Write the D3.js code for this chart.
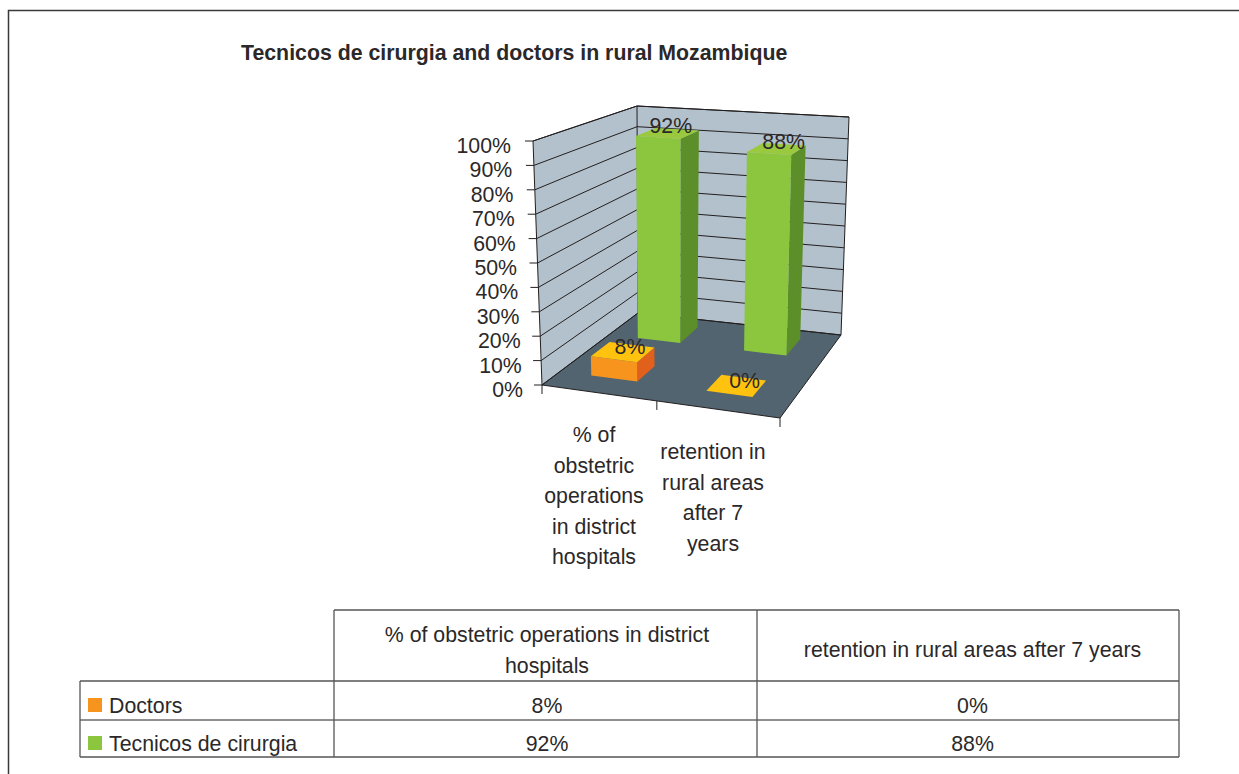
<!DOCTYPE html>
<html>
<head>
<meta charset="utf-8">
<script src="https://cdn.jsdelivr.net/npm/d3@7"></script>
<style>
  html, body { margin: 0; padding: 0; background: #fff; overflow: hidden; }
  text { font-family: "Liberation Sans", Arial, sans-serif; fill: #2b2829; }
</style>
</head>
<body>
<div id="chart"></div>
<script>
const title = 'Tecnicos de cirurgia and doctors in rural Mozambique';
const categories = ['% of obstetric operations in district hospitals', 'retention in rural areas after 7 years'];
const categoryLines = [
  ['% of', 'obstetric', 'operations', 'in district', 'hospitals'],
  ['retention in', 'rural areas', 'after 7', 'years']
];
const headerLines = [
  ['% of obstetric operations in district', 'hospitals'],
  ['retention in rural areas after 7 years']
];
const seriesNames = ['Doctors', 'Tecnicos de cirurgia'];
const doctors = [8, 0];
const tecnicos = [92, 88];
const tickValues = [0, 10, 20, 30, 40, 50, 60, 70, 80, 90, 100];

const width = 1239, height = 774;
const fontSize = 21.3;

const svg = d3.select('#chart').append('svg')
  .attr('width', width)
  .attr('height', height)
  .style('display', 'block');

// outer frame
svg.append('path')
  .attr('d', `M8.5,${height} V10.5 H${width}`)
  .attr('fill', 'none')
  .attr('stroke', '#3a3a3a')
  .attr('stroke-width', 1.5);

svg.append('text')
  .attr('x', 241)
  .attr('y', 60)
  .attr('font-size', fontSize)
  .attr('font-weight', 'bold')
  .text(title);

// the 3d box: corners as seen on screen, [front-left, front-right, back-left, back-right]
const floorCorners = [[542, 385], [780, 418], [638, 313], [841, 335]];
const topCorners = [[533, 141], [785, 160], [637, 106], [849, 117]];

function bilinear(c, u, v) {
  return [0, 1].map(k =>
    (1 - u) * (1 - v) * c[0][k] + u * (1 - v) * c[1][k] +
    (1 - u) * v * c[2][k] + u * v * c[3][k]);
}

function project(u, v, h) {
  const a = bilinear(floorCorners, u, v);
  const b = bilinear(topCorners, u, v);
  return [a[0] + (b[0] - a[0]) * h, a[1] + (b[1] - a[1]) * h];
}

const xScale = d3.scaleBand().domain(categories).range([-0.015, 0.98]).paddingInner(0.6).paddingOuter(0.3);
const zScale = d3.scaleBand().domain(seriesNames).range([0.037, 1.057]).paddingInner(0.6).paddingOuter(0.3);
const yScale = d3.scaleLinear().domain([0, 100]).range([0, 1]);

const line = d3.line();
const poly = pts => line(pts) + 'Z';

const chart = svg.append('g');

// walls and floor
chart.append('path')
  .attr('d', poly([project(0, 0, 0), project(0, 1, 0), project(0, 1, 1), project(0, 0, 1)]))
  .attr('fill', '#b2c1cb');
chart.append('path')
  .attr('d', poly([project(0, 1, 0), project(1, 1, 0), project(1, 1, 1), project(0, 1, 1)]))
  .attr('fill', '#b2c1cb');
chart.append('path')
  .attr('d', poly([project(0, 0, 0), project(1, 0, 0), project(1, 1, 0), project(0, 1, 0)]))
  .attr('fill', '#526470');

// gridlines over the walls
tickValues.forEach(t => {
  const h = yScale(t);
  chart.append('path')
    .attr('d', line([project(0, 0, h), project(0, 1, h), project(1, 1, h)]))
    .attr('fill', 'none')
    .attr('stroke', '#231f20')
    .attr('stroke-width', 1);
  const p = project(0, 0, h);
  chart.append('line')
    .attr('x1', p[0] - 8).attr('x2', p[0])
    .attr('y1', p[1]).attr('y2', p[1])
    .attr('stroke', '#231f20')
    .attr('stroke-width', 1);
  chart.append('text')
    .attr('x', p[0] - 19 - 3 * h)
    .attr('y', p[1] + 12)
    .attr('text-anchor', 'end')
    .attr('font-size', fontSize)
    .text(t + '%');
});

// box edges
chart.append('path')
  .attr('d', line([project(0, 0, 0), project(0, 0, 1), project(0, 1, 1), project(0, 1, 0)]))
  .attr('fill', 'none').attr('stroke', '#231f20').attr('stroke-width', 1);
chart.append('path')
  .attr('d', line([project(0, 1, 1), project(1, 1, 1), project(1, 1, 0)]))
  .attr('fill', 'none').attr('stroke', '#231f20').attr('stroke-width', 1);
chart.append('path')
  .attr('d', line([project(0, 0, 0), project(1, 0, 0), project(1, 1, 0), project(0, 1, 0), project(0, 0, 0)]))
  .attr('fill', 'none').attr('stroke', '#231f20').attr('stroke-width', 1);

// category ticks below the floor
const tickUs = [0, xScale(categories[1]) - xScale.step() * 0.3, 1];
tickUs.forEach(u => {
  const p = project(u, 0, 0);
  chart.append('line')
    .attr('x1', p[0]).attr('x2', p[0])
    .attr('y1', p[1]).attr('y2', p[1] + 9)
    .attr('stroke', '#231f20')
    .attr('stroke-width', 1);
});

function drawBar(cat, series, value, colors) {
  const u0 = xScale(cat), u1 = u0 + xScale.bandwidth();
  const v0 = zScale(series), v1 = v0 + zScale.bandwidth();
  const h = yScale(value);
  if (h > 0) {
    chart.append('path')
      .attr('d', poly([project(u1, v0, 0), project(u1, v1, 0), project(u1, v1, h), project(u1, v0, h)]))
      .attr('fill', colors.side);
    chart.append('path')
      .attr('d', poly([project(u0, v0, 0), project(u1, v0, 0), project(u1, v0, h), project(u0, v0, h)]))
      .attr('fill', colors.front);
  }
  chart.append('path')
    .attr('d', poly([project(u0, v0, h), project(u1, v0, h), project(u1, v1, h), project(u0, v1, h)]))
    .attr('fill', colors.top);
}

const doctorColors = { front: '#f7941e', side: '#e0601c', top: '#ffc20e' };
const tecnicoColors = { front: '#8cc63f', side: '#5c8e29', top: '#9ac93f' };

categories.forEach((c, i) => drawBar(c, seriesNames[1], tecnicos[i], tecnicoColors));
categories.forEach((c, i) => drawBar(c, seriesNames[0], doctors[i], doctorColors));

// value labels sit on the centre of the bar top
function drawValueLabel(cat, series, value, dx, dy) {
  const u = xScale(cat) + xScale.bandwidth() / 2;
  const v = zScale(series) + zScale.bandwidth() / 2;
  const p = project(u, v, yScale(value));
  chart.append('text')
    .attr('x', p[0] + dx)
    .attr('y', p[1] + dy)
    .attr('text-anchor', 'middle')
    .attr('font-size', fontSize)
    .text(value + '%');
}
categories.forEach((c, i) => drawValueLabel(c, seriesNames[1], tecnicos[i], i === 0 ? 3 : 7, 0));
categories.forEach((c, i) => drawValueLabel(c, seriesNames[0], doctors[i], i === 0 ? 7 : 8, 2));

// category labels
const labelX = [594, 713];
const labelFirstY = [442, 459];
categoryLines.forEach((lines, i) => {
  lines.forEach((l, j) => {
    chart.append('text')
      .attr('x', labelX[i])
      .attr('y', labelFirstY[i] + j * 30.6)
      .attr('text-anchor', 'middle')
      .attr('font-size', fontSize)
      .text(l);
  });
});

// data table
const tableCols = [80, 334, 757, 1179];
const tableRows = [610, 681, 720, 757];
const cellShift = [1.5, 4.5];
const table = svg.append('g');
const tableLine = (x1, y1, x2, y2, w) => table.append('line')
  .attr('x1', x1).attr('y1', y1).attr('x2', x2).attr('y2', y2)
  .attr('stroke', w > 1 ? '#555' : '#231f20').attr('stroke-width', w);

tableLine(tableCols[1], tableRows[0], tableCols[3], tableRows[0], 1.3);
tableRows.slice(1).forEach((y, i) => tableLine(tableCols[0], y, tableCols[3], y, i === 1 ? 1 : 1.3));
tableLine(tableCols[0], tableRows[1], tableCols[0], tableRows[3], 1.3);
tableCols.slice(1).forEach(x => tableLine(x, tableRows[0], x, tableRows[3], 1.3));

headerLines.forEach((lines, i) => {
  const cx = (tableCols[i + 1] + tableCols[i + 2]) / 2 + cellShift[i];
  const first = lines.length === 2 ? 642 : 657;
  lines.forEach((l, j) => {
    table.append('text')
      .attr('x', cx)
      .attr('y', first + j * 30.6)
      .attr('text-anchor', 'middle')
      .attr('font-size', fontSize)
      .text(l);
  });
});

const legendColors = [doctorColors.front, tecnicoColors.front];
[doctors, tecnicos].forEach((values, r) => {
  const baseline = tableRows[r + 1] + (r === 0 ? 32 : 31);
  table.append('rect')
    .attr('x', 88)
    .attr('y', baseline - 15)
    .attr('width', 14)
    .attr('height', 14)
    .attr('fill', legendColors[r]);
  table.append('text')
    .attr('x', 109)
    .attr('y', baseline)
    .attr('font-size', fontSize)
    .text(seriesNames[r]);
  values.forEach((val, i) => {
    table.append('text')
      .attr('x', (tableCols[i + 1] + tableCols[i + 2]) / 2 + cellShift[i])
      .attr('y', baseline)
      .attr('text-anchor', 'middle')
      .attr('font-size', fontSize)
      .text(val + '%');
  });
});
</script>
</body>
</html>
